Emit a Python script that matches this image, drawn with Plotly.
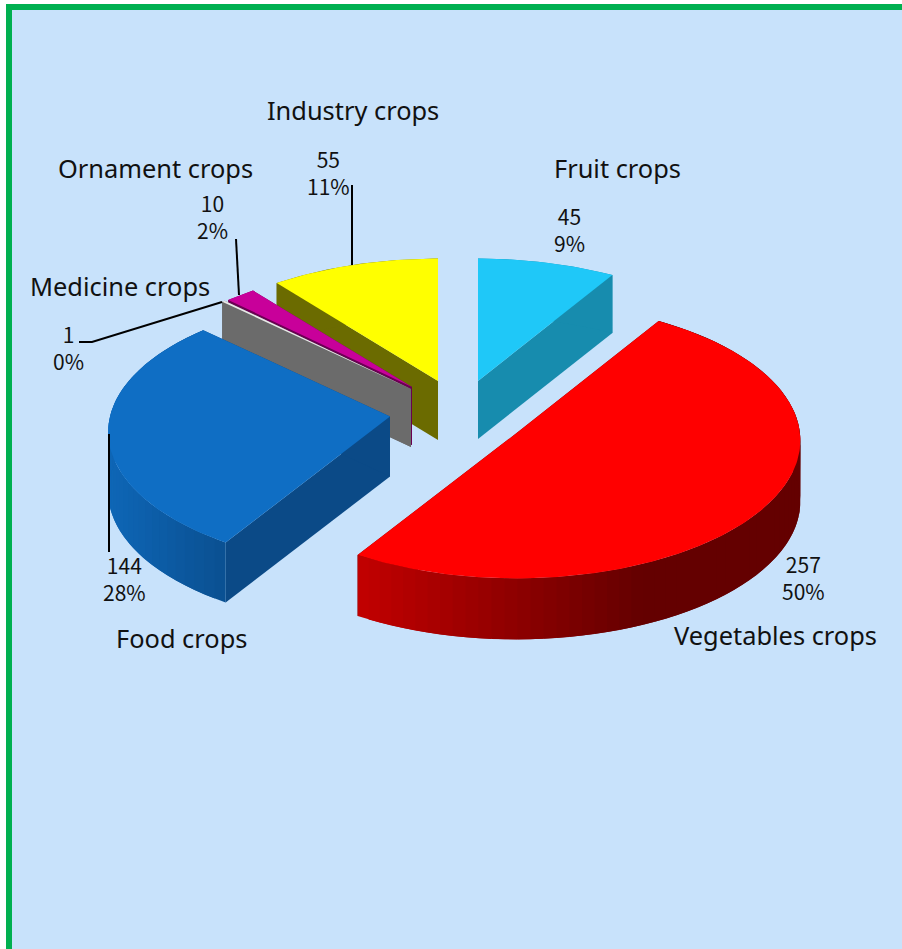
import numpy as np
import plotly.graph_objects as go

# ---- data (clockwise from 12 o'clock) ----
categories = ["Fruit crops", "Vegetables crops", "Food crops",
              "Medicine crops", "Ornament crops", "Industry crops"]
values = [45, 257, 144, 1, 10, 55]

# ---- styling ----
W, H = 902, 949
BG = "#C8E2FB"
GREEN = "#00B050"
top_colors = ["#1FC8F8", "#FF0000", "#0F6EC4", "#E8E8E8", "#C8009A", "#FFFF00"]
cut_colors = ["#178CAE", "#640000", "#0B4A87", "#6B6B6B", "#6A0052", "#6B6B00"]
wall_left = ["#178CAE", "#C00000", "#0E66B6", "#6B6B6B", "#6A0052", "#6B6B00"]
wall_right = ["#178CAE", "#640000", "#0A4F90", "#6B6B6B", "#6A0052", "#6B6B00"]
wall_x_span = [(0, 1), (364, 640), (110, 228), (0, 1), (0, 1), (0, 1)]
# exploded 3-D placement of each slice: hub position, semi-axes, perspective, height
hub_x = [478, 516, 390, 411, 412, 438]
hub_y = [381, 433.5, 416.5, 389, 387, 381]
semi_a = [280, 284, 280, 280, 276, 280]
semi_b = [136, 138, 136, 136, 134, 136]
persp = [0.10, 0.05, 0.115, 0.10, 0.10, 0.10]
height = [58, 61, 60, 58, 58, 59]
draw_order = [0, 5, 4, 3, 2, 1]

total = sum(values)
edges = np.concatenate([[0], np.cumsum(values)]) / total * 2 * np.pi


def project(i, ang):
    ang = np.asarray(ang, dtype=float)
    ux, uy = np.sin(ang), np.cos(ang)
    s = 1 - persp[i] * uy
    return hub_x[i] + semi_a[i] * ux * s, hub_y[i] - semi_b[i] * uy * s


def hex_rgb(c):
    return np.array([int(c[j:j + 2], 16) for j in (1, 3, 5)], dtype=float)


def mix(c0, c1, t):
    t = min(max(t, 0.0), 1.0)
    r = hex_rgb(c0) * (1 - t) + hex_rgb(c1) * t
    return "rgb(%d,%d,%d)" % tuple(r.round())


fig = go.Figure()


def poly(xs, ys, color):
    xs = np.append(xs, xs[0])
    ys = np.append(ys, ys[0])
    fig.add_trace(go.Scatter(x=xs, y=ys, mode="lines", fill="toself", fillcolor=color,
                             line=dict(color=color, width=0), hoverinfo="skip",
                             showlegend=False))


for i in draw_order:
    a0, a1 = edges[i], edges[i + 1]
    d = height[i]
    # cut faces
    for a in (a0, a1):
        x, y = project(i, a)
        poly(np.array([hub_x[i], x, x, hub_x[i]]),
             np.array([hub_y[i], y, y + d, hub_y[i] + d]), cut_colors[i])
    # outer wall, in shaded strips; each strip runs under the next one so no seam shows
    shaded = wall_left[i] != wall_right[i]
    n = int(np.degrees(a1 - a0) / 2.5) if shaded else 1
    ang = np.linspace(a0, a1, n + 1)
    order = range(n) if i != 1 else range(n - 1, -1, -1)
    for j in order:
        if shaded:
            lo_a = ang[j - 1] if (i == 1 and j > 0) else ang[j]
            hi_a = ang[j + 1] if i == 1 else ang[min(j + 2, n)]
            seg = np.linspace(lo_a, hi_a, 6)
        else:
            seg = np.linspace(ang[j], ang[j + 1], 40)
        x, y = project(i, seg)
        lo, hi = wall_x_span[i]
        t = (project(i, (ang[j] + ang[j + 1]) / 2)[0] - lo) / (hi - lo)
        poly(np.concatenate([x, x[::-1]]), np.concatenate([y, y[::-1] + d]),
             mix(wall_left[i], wall_right[i], t))
    # top face
    arc = np.linspace(a0, a1, max(8, int(np.degrees(a1 - a0))))
    x, y = project(i, arc)
    poly(np.concatenate([[hub_x[i]], x]), np.concatenate([[hub_y[i]], y]), top_colors[i])

# ---- text ----
LABEL_FONT = dict(family="Noto Sans", size=25.4, color="#111111")
NUM_FONT = dict(family="Noto Sans CJK JP", size=21, color="#111111")
label_pos = [(617, 168), (775, 635), (181, 638), (120, 286), (155, 168), (353, 110)]
value_pos = [(569, 229), (803, 577), (124, 578), (68, 347), (212, 216), (328, 172)]

for name, val, (lx, ly), (vx, vy) in zip(categories, values, label_pos, value_pos):
    fig.add_annotation(x=lx, y=ly, text=name, showarrow=False, font=LABEL_FONT,
                       xanchor="center", yanchor="middle")
    fig.add_annotation(x=vx, y=vy, text=f"{val}<br>{round(val / total * 100)}%",
                       showarrow=False, font=NUM_FONT, xanchor="center", yanchor="middle",
                       align="center")

# ---- leader lines and frame ----
leaders = [
    "M 352 185 L 352 265",
    "M 236 239 L 239 295",
    "M 222 302 L 92 342 L 79 342",
    "M 109 434 L 109 552",
]
shapes = [
    dict(type="rect", x0=12, x1=W + 5, y0=10, y1=H + 5, fillcolor=BG, line_width=0, layer="below"),
    dict(type="rect", x0=6, x1=12, y0=4, y1=H + 5, fillcolor=GREEN, line_width=0, layer="below"),
    dict(type="rect", x0=6, x1=W + 5, y0=4, y1=10, fillcolor=GREEN, line_width=0, layer="below"),
]
shapes += [dict(type="path", path=p, line=dict(color="#000000", width=2), layer="above")
           for p in leaders]

fig.update_layout(
    width=W, height=H, margin=dict(l=0, r=0, t=0, b=0),
    paper_bgcolor="#FFFFFF", plot_bgcolor="#FFFFFF", showlegend=False, shapes=shapes,
    xaxis=dict(range=[0, W], visible=False, fixedrange=True),
    yaxis=dict(range=[H, 0], visible=False, fixedrange=True),
)
fig.write_html("out.html", config=dict(displayModeBar=False),
               post_script="document.body.style.margin='0';document.documentElement.style.overflow='hidden';")
